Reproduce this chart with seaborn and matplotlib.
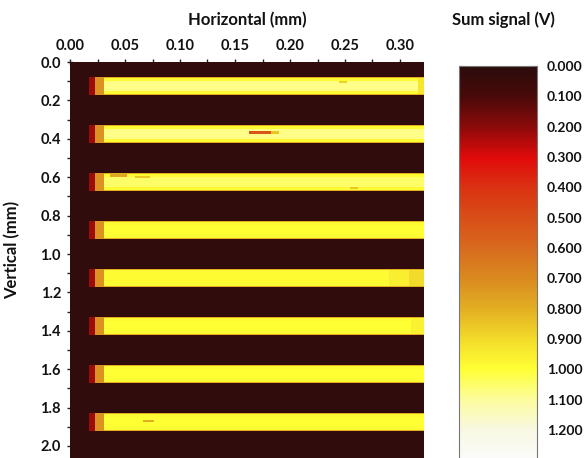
import numpy as np
import matplotlib
matplotlib.use("Agg")
import matplotlib.pyplot as plt
import seaborn as sns
from matplotlib.colors import LinearSegmentedColormap

# ---------------- data (mm / volts) ----------------
stripe_centers = [0.125, 0.375, 0.625, 0.875, 1.125, 1.375, 1.625, 1.875]
stripe_half_height = 0.047
stripe_core_values = [1.08, 1.08, 1.05, 1.00, 0.99, 1.00, 1.00, 1.00]
stripe_edge_value = 0.99
stripe_border_value = 0.80
background_value = 0.02

red_pad_x = [0.0175, 0.0235]
red_pad_value = 0.22
orange_pad_x = [0.0235, 0.031]
orange_pad_value = 0.72
bar_x = [0.031, 0.322]

# defects: stripe index, x start, x end, y centre, half height, value
defect_stripe = [1, 1, 2, 2, 2, 0, 7, 0, 4, 4, 5]
defect_x0 = [0.163, 0.183, 0.036, 0.059, 0.255, 0.245, 0.066, 0.316, 0.290, 0.308, 0.310]
defect_x1 = [0.183, 0.190, 0.052, 0.073, 0.262, 0.252, 0.076, 0.322, 0.308, 0.322, 0.322]
defect_yc = [0.366, 0.366, 0.592, 0.598, 0.655, 0.105, 1.868, 0.125, 1.125, 1.125, 1.375]
defect_hh = [0.008, 0.006, 0.008, 0.006, 0.005, 0.004, 0.004, 0.047, 0.047, 0.047, 0.047]
defect_val = [0.52, 0.85, 0.78, 0.85, 0.85, 0.88, 0.80, 0.93, 0.95, 0.90, 0.96]

x_ticks = [0.00, 0.05, 0.10, 0.15, 0.20, 0.25, 0.30]
y_ticks = [0.0, 0.2, 0.4, 0.6, 0.8, 1.0, 1.2, 1.4, 1.6, 1.8, 2.0]
cbar_ticks = [0.0, 0.1, 0.2, 0.3, 0.4, 0.5, 0.6, 0.7, 0.8, 0.9, 1.0, 1.1, 1.2]

cmap_positions = [0.0, 0.1, 0.2, 0.3, 0.4, 0.5, 0.6, 0.7, 0.8, 0.9, 1.0, 1.1, 1.2, 1.3]
cmap_colors = ["#2b0c0c", "#4a0909", "#8c0a0a", "#e00a0a", "#da3212", "#d84e18",
               "#d86a1e", "#da8a20", "#e2ae22", "#f2da2a", "#ffff33", "#fcfc9c",
               "#f8f8e2", "#fbfbfb"]
vmin, vmax = 0.0, 1.3

# ---------------- grid ----------------
dx, dy = 0.001, 0.0025
x_extent, y_extent = 0.322, 2.07
ncols = int(round(x_extent / dx))
nrows = int(round(y_extent / dy))
xc = (np.arange(ncols) + 0.5) * dx
yc = (np.arange(nrows) + 0.5) * dy
Z = np.full((nrows, ncols), background_value)

def cols(a, b):
    return (xc >= a) & (xc < b)

for k, c in enumerate(stripe_centers):
    d = np.abs(yc - c)
    rows = d <= stripe_half_height
    Z[np.ix_(rows, cols(*red_pad_x))] = red_pad_value
    Z[np.ix_(rows, cols(*orange_pad_x))] = orange_pad_value
    Z[np.ix_(rows, cols(*bar_x))] = stripe_edge_value
    core = d <= stripe_half_height * 0.6
    Z[np.ix_(core, cols(*bar_x))] = stripe_core_values[k]
    border = (d <= stripe_half_height) & (d > stripe_half_height - 0.004)
    Z[np.ix_(border, cols(bar_x[0], bar_x[1]))] = stripe_border_value

for s, a, b, y0, hh, v in zip(defect_stripe, defect_x0, defect_x1, defect_yc, defect_hh, defect_val):
    c = stripe_centers[s]
    rows = (np.abs(yc - y0) <= hh) & (np.abs(yc - c) <= stripe_half_height - 0.004)
    Z[np.ix_(rows, cols(a, b))] = v

# ---------------- figure ----------------
sns.set_theme(style="white")
plt.rcParams["font.family"] = ["Lato", "DejaVu Sans"]
plt.rcParams["font.weight"] = "bold"

W, H = 585, 458
fig = plt.figure(figsize=(W / 100, H / 100), dpi=100)
fig.patch.set_facecolor("white")

px_per_mm_x = 1100.0
px_per_mm_y = 192.0
ax_left, ax_top = 70, 62
ax_w = x_extent * px_per_mm_x
ax_h = y_extent * px_per_mm_y
ax = fig.add_axes([ax_left / W, (H - ax_top - ax_h) / H, ax_w / W, ax_h / H])

cb_left, cb_top, cb_w = 459, 66, 78
cb_h = (vmax - vmin) * 303.3
cax = fig.add_axes([cb_left / W, (H - cb_top - cb_h) / H, cb_w / W, cb_h / H])

cmap = LinearSegmentedColormap.from_list(
    "sum", list(zip([p / 1.3 for p in cmap_positions], cmap_colors)))

sns.heatmap(Z, ax=ax, cmap=cmap, vmin=vmin, vmax=vmax, cbar_ax=cax,
            xticklabels=False, yticklabels=False, rasterized=True)

ax.set_xlim(0, ncols)
ax.set_ylim(nrows, 0)
minor_x = np.arange(0, 0.3001, 0.025)
ax.set_xticks([t / dx for t in minor_x])
ax.set_xticklabels([f"{t:.2f}" if abs(t / 0.05 - round(t / 0.05)) < 1e-6 else "" for t in minor_x])
minor_y = np.arange(0, 2.051, 0.1)
ax.set_yticks([t / dy for t in minor_y])
ax.set_yticklabels([f"{t:.1f}" if abs(t / 0.2 - round(t / 0.2)) < 1e-6 else "" for t in minor_y],
                   rotation=0)
ax.xaxis.tick_top()
ax.tick_params(axis="x", top=True, bottom=False, direction="inout", length=5, width=1,
               color="#222222", labelsize=10.5, pad=4, labelcolor="#111111")
ax.tick_params(axis="y", left=True, direction="inout", length=5, width=1,
               color="#222222", labelsize=10.5, pad=4, labelcolor="#111111")
for lab in ax.get_xticklabels() + ax.get_yticklabels():
    lab.set_fontweight("bold")
for sp in ax.spines.values():
    sp.set_visible(False)

ax.xaxis.set_label_position("top")
ax.set_xlabel("Horizontal (mm)", fontsize=12, fontweight="bold", labelpad=10, color="#111111")
ax.set_ylabel("Vertical (mm)", fontsize=12, fontweight="bold", labelpad=10, color="#111111")
ax.yaxis.set_label_coords(-50 / ax_w, 1 - (250 - ax_top) / ax_h)

# colorbar
cbar = ax.collections[0].colorbar
cbar.set_ticks(cbar_ticks)
cbar.set_ticklabels([f"{t:.3f}" for t in cbar_ticks])
cax.set_ylim(vmax, vmin)
cax.yaxis.set_ticks_position("both")
cax.tick_params(axis="y", direction="in", length=4, width=0.8, color="#333333",
                left=True, right=True, labelleft=False, labelright=True,
                labelsize=10, pad=7, labelcolor="#111111")
for lab in cax.get_yticklabels():
    lab.set_fontweight("bold")
cbar.outline.set_edgecolor("#777777")
cbar.outline.set_linewidth(0.8)

fig.text(503 / W, 1 - 20 / H, "Sum signal (V)", ha="center", va="center",
         fontsize=12, fontweight="bold", color="#111111")

fig.savefig("out.png", dpi=100, facecolor="white")
